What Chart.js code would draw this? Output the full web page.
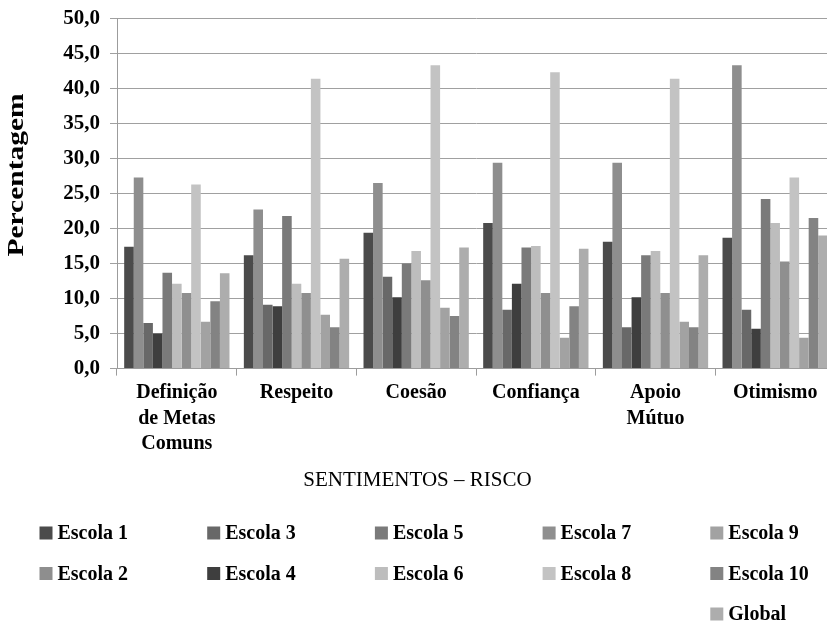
<!DOCTYPE html>
<html>
<head>
<meta charset="utf-8">
<title>Sentimentos – Risco</title>
<script src="https://cdn.jsdelivr.net/npm/chart.js@4.4.1/dist/chart.umd.min.js"></script>
<style>
  html, body { margin: 0; padding: 0; background: #ffffff; overflow: hidden; }
  #wrap { position: relative; width: 836px; height: 621px; }
</style>
</head>
<body>
<div id="wrap"><canvas id="chart" width="836" height="621"></canvas></div>
<script>
// Categories (feelings) on the x axis
const categories = [
  ['Definição', 'de Metas', 'Comuns'],
  'Respeito',
  'Coesão',
  'Confiança',
  ['Apoio', 'Mútuo'],
  'Otimismo'
];

// Series names
const seriesNames = ['Escola 1', 'Escola 2', 'Escola 3', 'Escola 4', 'Escola 5',
                     'Escola 6', 'Escola 7', 'Escola 8', 'Escola 9', 'Escola 10', 'Global'];

// Percentages per school, one value per category
const escola1  = [17.4, 16.2, 19.4, 20.8, 18.1, 18.7];
const escola2  = [27.3, 22.7, 26.5, 29.4, 29.4, 43.3];
const escola3  = [ 6.5,  9.1, 13.1,  8.4,  5.9,  8.4];
const escola4  = [ 5.0,  8.9, 10.2, 12.1, 10.2,  5.7];
const escola5  = [13.7, 21.8, 15.0, 17.3, 16.2, 24.2];
const escola6  = [12.1, 12.1, 16.8, 17.5, 16.8, 20.8];
const escola7  = [10.8, 10.8, 12.6, 10.8, 10.8, 15.3];
const escola8  = [26.3, 41.4, 43.3, 42.3, 41.4, 27.3];
const escola9  = [ 6.7,  7.7,  8.7,  4.4,  6.7,  4.4];
const escola10 = [ 9.6,  5.9,  7.5,  8.9,  5.9, 21.5];
const global   = [13.6, 15.7, 17.3, 17.1, 16.2, 19.0];

const seriesValues = [escola1, escola2, escola3, escola4, escola5,
                      escola6, escola7, escola8, escola9, escola10, global];

// Y axis ticks and title
const yTicks = [0, 5, 10, 15, 20, 25, 30, 35, 40, 45, 50];
const yTitle = 'Percentagem';

// Grey shades for each series
const seriesColors = ['#4b4b4b', '#8e8e8e', '#686868', '#3e3e3e', '#7a7a7a',
                      '#bdbdbd', '#8f8f8f', '#c3c3c3', '#a2a2a2', '#838383', '#adadad'];

const FONT = "'Liberation Serif', 'Times New Roman', serif";

// Rotated y-axis caption, stretched along its reading direction
const yCaption = {
  id: 'yCaption',
  afterDraw(chart) {
    const ctx = chart.ctx;
    ctx.save();
    ctx.font = 'bold 23px ' + FONT;
    ctx.fillStyle = '#000000';
    ctx.textAlign = 'center';
    ctx.textBaseline = 'middle';
    const w = ctx.measureText(yTitle).width;
    ctx.translate(17.5, 175);
    ctx.rotate(-Math.PI / 2);
    ctx.scale(163 / w, 1);
    ctx.fillText(yTitle, 0, 0);
    ctx.restore();
  }
};

// Legend laid out in five columns, filled column by column
const gridLegend = {
  id: 'gridLegend',
  afterDraw(chart) {
    const ctx = chart.ctx;
    const colX0 = 39.5, colStep = 167.7;
    const rowY0 = 533, rowStep = 40.5;
    const box = 13;
    ctx.save();
    ctx.font = 'bold 20px ' + FONT;
    ctx.textBaseline = 'middle';
    ctx.textAlign = 'left';
    const columns = [[0, 1], [2, 3], [4, 5], [6, 7], [8, 9, 10]];
    columns.forEach((col, c) => {
      col.forEach((idx, r) => {
        const ds = chart.data.datasets[idx];
        const x = colX0 + c * colStep;
        const y = rowY0 + r * rowStep;
        ctx.fillStyle = ds.backgroundColor;
        ctx.fillRect(x, y - box / 2, box, box);
        ctx.fillStyle = '#000000';
        ctx.fillText(ds.label, x + box + 5, y + 1);
      });
    });
    ctx.restore();
  }
};

const formatTick = v => Number(v).toFixed(1).replace('.', ',');

new Chart(document.getElementById('chart'), {
  type: 'bar',
  data: {
    labels: categories,
    datasets: seriesNames.map((name, i) => ({
      label: name,
      data: seriesValues[i],
      backgroundColor: seriesColors[i],
      borderWidth: 0,
      categoryPercentage: 0.88,
      barPercentage: 1.0
    }))
  },
  options: {
    responsive: false,
    animation: false,
    layout: { padding: { top: 17, right: 1, bottom: 124, left: 0 } },
    plugins: {
      legend: { display: false },
      tooltip: { enabled: false },
      title: {
        display: true,
        position: 'bottom',
        text: 'SENTIMENTOS – RISCO',
        color: '#000000',
        font: { family: FONT, size: 21, weight: 'normal' },
        padding: { top: 6, bottom: 4 }
      }
    },
    scales: {
      x: {
        grid: {
          display: true,
          drawOnChartArea: false,
          drawTicks: true,
          tickLength: 7,
          offset: true,
          color: '#9c9c9c'
        },
        border: { display: true, color: '#9c9c9c', width: 1 },
        ticks: {
          color: '#000000',
          font: { family: FONT, size: 20, weight: 'bold', lineHeight: 1.27 },
          padding: 5,
          maxRotation: 0,
          autoSkip: false
        }
      },
      y: {
        min: 0,
        max: 50,
        afterBuildTicks(scale) {
          scale.ticks = yTicks.map(v => ({ value: v }));
        },
        afterFit(scale) { scale.width = 117; },
        grid: {
          color: '#a0a0a0',
          lineWidth: 1,
          drawTicks: true,
          tickLength: 7
        },
        border: { display: true, color: '#9c9c9c', width: 1 },
        ticks: {
          color: '#000000',
          font: { family: FONT, size: 21, weight: 'bold', lineHeight: 0.8 },
          padding: 10,
          callback: v => formatTick(v)
        },
        title: { display: false, text: yTitle }
      }
    }
  },
  plugins: [yCaption, gridLegend]
});
</script>
</body>
</html>
